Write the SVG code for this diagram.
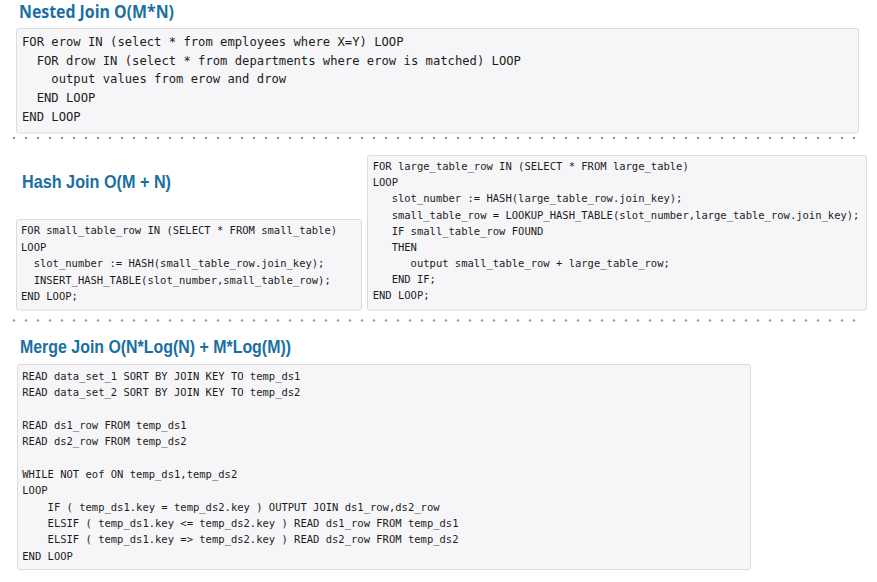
<svg xmlns="http://www.w3.org/2000/svg" width="877" height="582" viewBox="0 0 877 582">
<style>
.bg{fill:#ffffff}
.box{fill:#f6f6f8;stroke:#dcdcdf;stroke-width:1}
.code{font-family:"DejaVu Sans Mono","Liberation Mono",monospace;fill:#1c1c1c;white-space:pre}
.big{font-size:12.2px}
.small{font-size:10.5px}
.t1{font-family:"Open Sans","Noto Sans",sans-serif;font-weight:bold;fill:#1a6fa3;font-size:18px}
.t2{font-family:"Liberation Sans",Arial,sans-serif;font-weight:bold;fill:#1a6fa3;font-size:18.5px}
.dots{stroke:#9a9a9a;stroke-width:2.6;stroke-linecap:round;stroke-dasharray:0 12;fill:none}
</style>
<rect class="bg" x="0" y="0" width="877" height="582"/>
<g id="nested">
<text class="t1" x="19" y="18" textLength="155" lengthAdjust="spacingAndGlyphs">Nested Join O(M*N)</text>
<rect class="box" x="16.5" y="28.5" width="842" height="104.5" rx="2"/>
<text class="code big" x="22" y="46">FOR erow IN (select * from employees where X=Y) LOOP</text>
<text class="code big" x="22" y="64.7">  FOR drow IN (select * from departments where erow is matched) LOOP</text>
<text class="code big" x="22" y="83.3">    output values from erow and drow</text>
<text class="code big" x="22" y="102">  END LOOP</text>
<text class="code big" x="22" y="120.7">END LOOP</text>
</g>
<g id="separators">
<line class="dots" x1="14" y1="138" x2="856" y2="138"/>
<line class="dots" x1="14" y1="320.5" x2="856" y2="320.5"/>
</g>
<g id="hash">
<text class="t2" x="22" y="187.7" textLength="149" lengthAdjust="spacingAndGlyphs">Hash Join O(M + N)</text>
<rect class="box" x="16.5" y="219.5" width="345" height="90.5" rx="2"/>
<text class="code small" x="21" y="234.3">FOR small_table_row IN (SELECT * FROM small_table)</text>
<text class="code small" x="21" y="250.7">LOOP</text>
<text class="code small" x="21" y="267.1">  slot_number := HASH(small_table_row.join_key);</text>
<text class="code small" x="21" y="283.5">  INSERT_HASH_TABLE(slot_number,small_table_row);</text>
<text class="code small" x="21" y="299.9">END LOOP;</text>
</g>
<g id="hash-large">
<rect class="box" x="367.5" y="155.5" width="499" height="154.5" rx="2"/>
<text class="code small" x="372.7" y="170">FOR large_table_row IN (SELECT * FROM large_table)</text>
<text class="code small" x="372.7" y="186.2">LOOP</text>
<text class="code small" x="372.7" y="202.3">   slot_number := HASH(large_table_row.join_key);</text>
<text class="code small" x="372.7" y="218.5">   small_table_row = LOOKUP_HASH_TABLE(slot_number,large_table_row.join_key);</text>
<text class="code small" x="372.7" y="234.7">   IF small_table_row FOUND</text>
<text class="code small" x="372.7" y="250.8">   THEN</text>
<text class="code small" x="372.7" y="267">      output small_table_row + large_table_row;</text>
<text class="code small" x="372.7" y="283.2">   END IF;</text>
<text class="code small" x="372.7" y="299.3">END LOOP;</text>
</g>
<g id="merge">
<text class="t2" x="20" y="352.7" textLength="271" lengthAdjust="spacingAndGlyphs">Merge Join O(N*Log(N) + M*Log(M))</text>
<rect class="box" x="17.5" y="364.5" width="733" height="205" rx="2"/>
<text class="code small" x="22.3" y="380">READ data_set_1 SORT BY JOIN KEY TO temp_ds1</text>
<text class="code small" x="22.3" y="396.3">READ data_set_2 SORT BY JOIN KEY TO temp_ds2</text>
<text class="code small" x="22.3" y="429">READ ds1_row FROM temp_ds1</text>
<text class="code small" x="22.3" y="445.3">READ ds2_row FROM temp_ds2</text>
<text class="code small" x="22.3" y="478">WHILE NOT eof ON temp_ds1,temp_ds2</text>
<text class="code small" x="22.3" y="494.3">LOOP</text>
<text class="code small" x="22.3" y="510.7">    IF ( temp_ds1.key = temp_ds2.key ) OUTPUT JOIN ds1_row,ds2_row</text>
<text class="code small" x="22.3" y="527">    ELSIF ( temp_ds1.key &lt;= temp_ds2.key ) READ ds1_row FROM temp_ds1</text>
<text class="code small" x="22.3" y="543.3">    ELSIF ( temp_ds1.key =&gt; temp_ds2.key ) READ ds2_row FROM temp_ds2</text>
<text class="code small" x="22.3" y="559.7">END LOOP</text>
</g>
</svg>
